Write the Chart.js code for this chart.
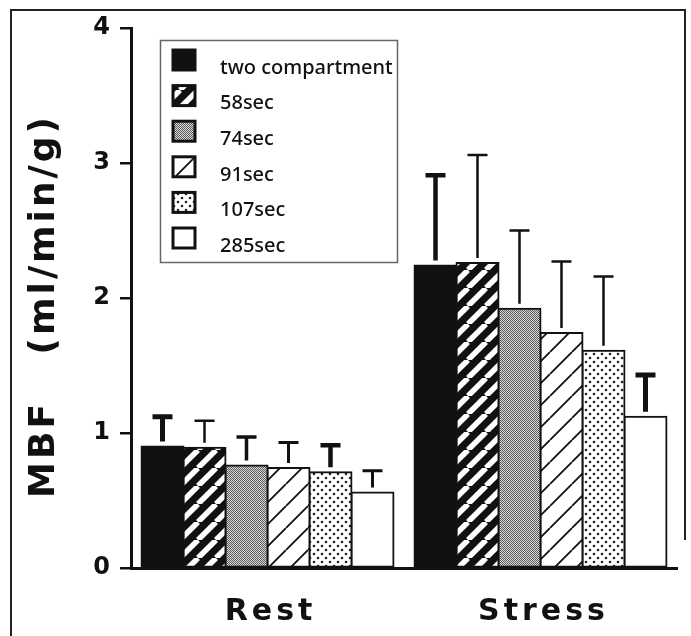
<!DOCTYPE html>
<html>
<head>
<meta charset="utf-8">
<script src="https://cdn.jsdelivr.net/npm/chart.js@4.4.1/dist/chart.umd.min.js"></script>
<style>
  body { margin: 0; background: #fff; }
  canvas { display: block; }
</style>
</head>
<body>
<canvas id="myChart" width="691" height="636"></canvas>
<script>
// Datos
const categorias = ["Rest", "Stress"];
const series = ["two compartment", "58sec", "74sec", "91sec", "107sec", "285sec"];
const mbfRest = [0.90, 0.89, 0.76, 0.74, 0.71, 0.56];
const mbfStress = [2.24, 2.26, 1.92, 1.74, 1.61, 1.12];
const sdRest = [0.22, 0.20, 0.21, 0.19, 0.20, 0.16];
const sdStress = [0.67, 0.80, 0.58, 0.53, 0.55, 0.31];
const yTicks = [0, 1, 2, 3, 4];

// grosor de las barras de error (estilo, por serie: [rest, stress])
const grosorError = [[5, 4.5], [2.5, 2.5], [3.5, 2.5], [3, 2.5], [4.5, 2.5], [3, 5]];

const ctx = document.getElementById("myChart");
const g2d = ctx.getContext("2d");

// Patrones de relleno
function patron(w, h, dibujar) {
  const c = document.createElement("canvas");
  c.width = w;
  c.height = h;
  dibujar(c.getContext("2d"), w, h);
  return g2d.createPattern(c, "repeat");
}

function diagonales(g, s, color, ancho) {
  g.strokeStyle = color;
  g.lineWidth = ancho;
  g.beginPath();
  [-s, 0, s].forEach((k) => {
    g.moveTo(k, s);
    g.lineTo(k + s, 0);
  });
  g.stroke();
}

const rellenos = [
  "#111",
  patron(18, 18, (g, w, h) => {
    g.fillStyle = "#111";
    g.fillRect(0, 0, w, h);
    diagonales(g, w, "#fff", 5.5);
  }),
  patron(2, 2, (g) => {
    g.fillStyle = "#dadada";
    g.fillRect(0, 0, 2, 2);
    g.fillStyle = "#5a5a5a";
    g.fillRect(0, 0, 1, 1);
    g.fillRect(1, 1, 1, 1);
  }),
  patron(22, 22, (g, w, h) => {
    g.fillStyle = "#fff";
    g.fillRect(0, 0, w, h);
    diagonales(g, w, "#111", 1.8);
  }),
  patron(8, 8, (g) => {
    g.fillStyle = "#fff";
    g.fillRect(0, 0, 8, 8);
    g.fillStyle = "#222";
    [[2, 2], [6, 6]].forEach(([x, y]) => {
      g.beginPath();
      g.arc(x, y, 1.3, 0, Math.PI * 2);
      g.fill();
    });
  }),
  "#fff",
];

const datasets = series.map((nombre, i) => ({
  label: nombre,
  data: [mbfRest[i], mbfStress[i]],
  errores: [sdRest[i], sdStress[i]],
  backgroundColor: rellenos[i],
  borderColor: "#111",
  borderWidth: 2,
  borderSkipped: false,
  inflateAmount: 1,
}));

// Barras de error (solo hacia arriba, en forma de T)
const barrasError = {
  id: "barrasError",
  afterDatasetsDraw(chart) {
    const c = chart.ctx;
    const y = chart.scales.y;
    chart.data.datasets.forEach((ds, i) => {
      chart.getDatasetMeta(i).data.forEach((bar, j) => {
        const tope = y.getPixelForValue(ds.data[j] + ds.errores[j]);
        c.save();
        c.strokeStyle = "#111";
        c.lineWidth = grosorError[i][j];
        c.beginPath();
        c.moveTo(bar.x, bar.y - 5);
        c.lineTo(bar.x, tope);
        c.moveTo(bar.x - 10, tope);
        c.lineTo(bar.x + 10, tope);
        c.stroke();
        c.restore();
      });
    });
  },
};

// Marco, leyenda y textos
const decoracion = {
  id: "decoracion",
  afterDraw(chart) {
    const c = chart.ctx;
    c.save();

    // marco exterior
    c.strokeStyle = "#222";
    c.lineWidth = 2;
    c.beginPath();
    c.moveTo(11, 640);
    c.lineTo(11, 10);
    c.lineTo(685, 10);
    c.lineTo(685, 540);
    c.stroke();

    // leyenda
    c.lineWidth = 1.5;
    c.strokeStyle = "#666";
    c.strokeRect(160.5, 40.5, 237, 222);
    series.forEach((nombre, i) => {
      const top = 50 + i * 35.6;
      c.fillStyle = rellenos[i];
      c.fillRect(173, top, 22, 20);
      c.lineWidth = 3;
      c.strokeStyle = "#111";
      c.strokeRect(173, top, 22, 20);
      c.fillStyle = "#111";
      c.font = '500 20px "Noto Sans"';
      c.textAlign = "left";
      c.textBaseline = "middle";
      c.fillText(nombre, 220, top + 18);
    });

    // titulo eje Y
    c.translate(45, 306);
    c.rotate(-Math.PI / 2);
    c.font = 'bold 36px "DejaVu Sans"';
    c.letterSpacing = "3px";
    c.textAlign = "center";
    c.textBaseline = "middle";
    c.fillText("MBF   (ml/min/g)", 0, 0);
    c.restore();

    // etiquetas de categoria
    c.save();
    c.font = 'bold 30px "DejaVu Sans"';
    c.letterSpacing = "4px";
    c.fillStyle = "#111";
    c.textAlign = "center";
    c.textBaseline = "middle";
    categorias.forEach((cat, j) => {
      c.fillText(cat, chart.scales.x.getPixelForValue(j) + 3, 612);
    });
    c.restore();
  },
};

new Chart(ctx, {
  type: "bar",
  data: { labels: categorias, datasets: datasets },
  options: {
    responsive: false,
    animation: false,
    layout: { padding: { left: 8, top: 28, right: 14, bottom: 0 } },
    datasets: { bar: { categoryPercentage: 0.923, barPercentage: 1 } },
    plugins: { legend: { display: false }, tooltip: { enabled: false } },
    scales: {
      x: {
        afterFit: (scale) => { scale.height = 68; },
        grid: { drawOnChartArea: false, drawTicks: false },
        border: { display: true, width: 3, color: "#111" },
        ticks: { display: false },
      },
      y: {
        min: 0,
        max: 4,
        afterFit: (scale) => { scale.width = 123; },
        afterBuildTicks: (scale) => { scale.ticks = yTicks.map((v) => ({ value: v })); },
        grid: { drawOnChartArea: false, drawTicks: true, tickLength: 11, color: "#111", lineWidth: 2.5 },
        border: { display: true, width: 3, color: "#111" },
        ticks: { color: "#111", padding: 10, font: { family: "DejaVu Sans", size: 24, weight: "bold" } },
      },
    },
  },
  plugins: [barrasError, decoracion],
});
</script>
</body>
</html>
